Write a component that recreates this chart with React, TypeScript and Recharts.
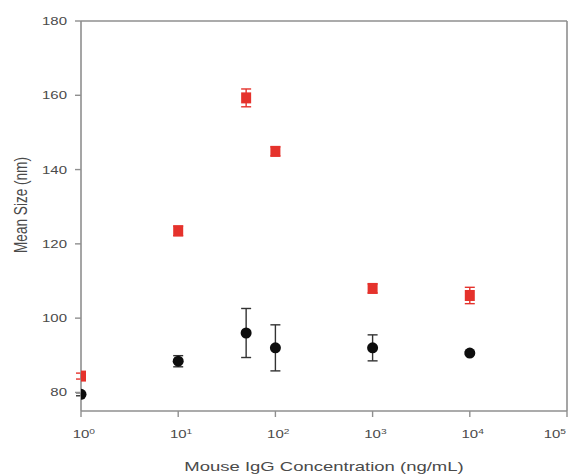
import React from 'react'
import {
  ScatterChart,
  Scatter,
  XAxis,
  YAxis,
  ErrorBar,
  ReferenceLine,
} from 'recharts'

// values
const concentrations = [1, 10, 50, 100, 1000, 10000]
const redMeans = [84.4, 123.5, 159.3, 144.9, 108.0, 106.1]
const redErrors = [0.8, 1.3, 2.4, 1.2, 1.2, 2.2]
const blackMeans = [79.5, 88.4, 96.0, 92.0, 92.0, 90.6]
const blackErrors = [0.4, 1.5, 6.6, 6.2, 3.5, 0.4]

const xTicks = [1, 10, 100, 1000, 10000, 100000]
const yTicks = [80, 100, 120, 140, 160, 180]

const redData = concentrations.map((x, i) => ({ x, y: redMeans[i], err: redErrors[i] }))
const blackData = concentrations.map((x, i) => ({ x, y: blackMeans[i], err: blackErrors[i] }))

// the source figure is stretched sideways, so text gets the same stretch
const SX = 1.36
const FONT = '"Liberation Sans", Arial, sans-serif'
const TEXT = '#4a4a4a'
const AXIS = '#8f8f8f'
const RED = '#e5322c'

function XTick(props: any) {
  const { x, y, payload } = props
  const exp = Math.round(Math.log10(payload.value))
  return (
    <g transform={`translate(${x},${y + 19}) scale(${SX},1)`}>
      <text x={-6.1} y={0} fontSize={11} fontFamily={FONT} fill={TEXT}>
        10
        <tspan dy={-4.5} fontSize={7.5}>{exp}</tspan>
      </text>
    </g>
  )
}

function YTick(props: any) {
  const { x, y, payload } = props
  return (
    <g transform={`translate(${x - 6},${y + 4}) scale(${SX},1)`}>
      <text x={0} y={0} textAnchor="end" fontSize={11} fontFamily={FONT} fill={TEXT}>
        {payload.value}
      </text>
    </g>
  )
}

function XTitle(props: any) {
  const { viewBox } = props
  const cx = viewBox.x + viewBox.width / 2
  return (
    <g transform={`translate(${cx},${viewBox.y + 60}) scale(${SX},1)`}>
      <text textAnchor="middle" fontSize={13.6} fontFamily={FONT} fill={TEXT}>
        Mouse IgG Concentration (ng/mL)
      </text>
    </g>
  )
}

function YTitle(props: any) {
  const { viewBox } = props
  const cy = viewBox.y + viewBox.height / 2 - 11
  return (
    <g transform={`translate(12,${cy}) scale(${SX},1) rotate(-90)`}>
      <text textAnchor="middle" dominantBaseline="central" fontSize={13.6} fontFamily={FONT} fill={TEXT}>
        Mean Size (nm)
      </text>
    </g>
  )
}

const RedSquare = (props: any) => {
  const { cx, cy } = props
  return <rect x={cx - 5} y={cy - 5.5} width={10} height={11} fill={RED} />
}

const BlackDot = (props: any) => {
  const { cx, cy } = props
  return <circle cx={cx} cy={cy} r={5.5} fill="#0d0d0d" />
}

export default function App() {
  return (
    <ScatterChart width={568} height={466} margin={{ top: 13, right: 9, left: 0, bottom: 0 }}>
      <XAxis
        type="number"
        dataKey="x"
        scale="log"
        domain={[1, 100000]}
        ticks={xTicks}
        allowDataOverflow
        height={63}
        tickSize={6}
        axisLine={{ stroke: AXIS, strokeWidth: 1.6 }}
        tickLine={{ stroke: AXIS, strokeWidth: 1.4 }}
        tick={<XTick />}
        label={{ content: XTitle }}
      />
      <YAxis
        type="number"
        dataKey="y"
        domain={[75, 180]}
        ticks={yTicks}
        allowDataOverflow
        width={73}
        tickSize={6}
        axisLine={{ stroke: AXIS, strokeWidth: 1.6 }}
        tickLine={{ stroke: AXIS, strokeWidth: 1.4 }}
        tick={<YTick />}
        label={{ content: YTitle }}
      />
      <ReferenceLine y={180} stroke={AXIS} strokeWidth={1.6} />
      <ReferenceLine x={100000} stroke={AXIS} strokeWidth={1.6} />
      <Scatter data={blackData} shape={BlackDot} isAnimationActive={false}>
        <ErrorBar dataKey="err" direction="y" width={5} stroke="#333" strokeWidth={1.4} />
      </Scatter>
      <Scatter data={redData} shape={RedSquare} isAnimationActive={false}>
        <ErrorBar dataKey="err" direction="y" width={5} stroke={RED} strokeWidth={1.4} />
      </Scatter>
    </ScatterChart>
  )
}
